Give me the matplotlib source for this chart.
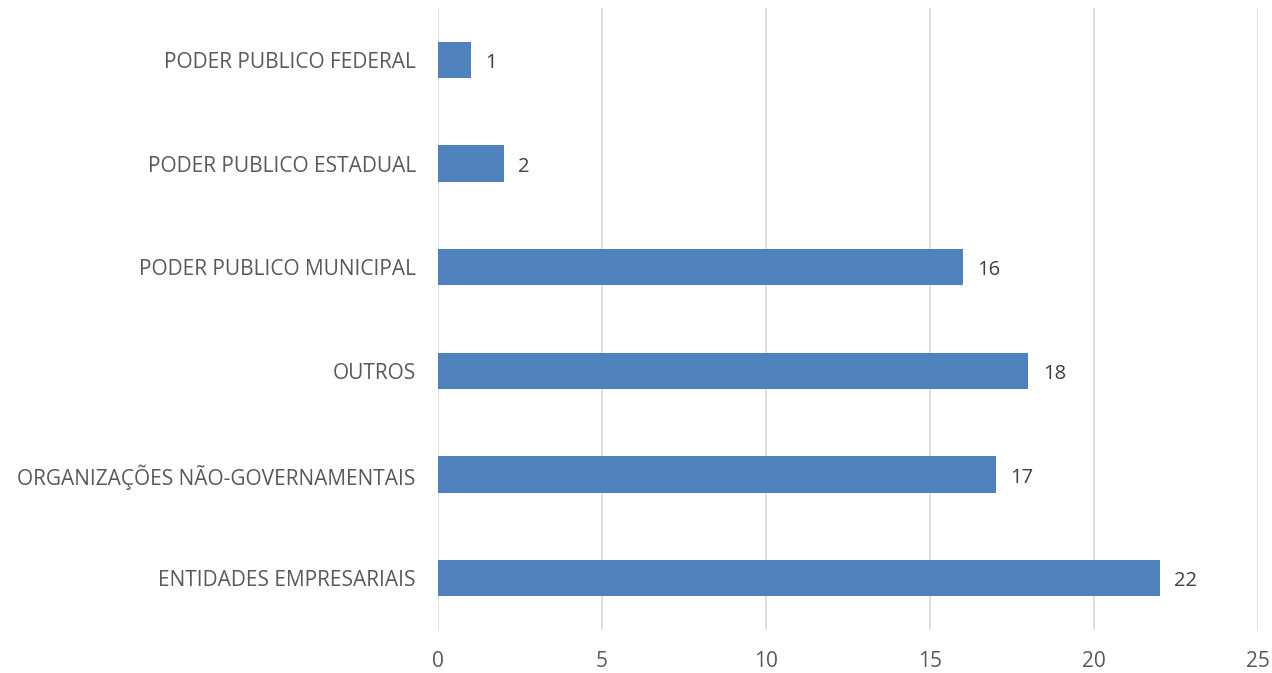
import numpy as np
import matplotlib.pyplot as plt

categorias = ["ENTIDADES EMPRESARIAIS", "ORGANIZAÇÕES NÃO-GOVERNAMENTAIS", "OUTROS",
              "PODER PUBLICO MUNICIPAL", "PODER PUBLICO ESTADUAL", "PODER PUBLICO FEDERAL"]
valores = [22, 17, 18, 16, 2, 1]
xticks = [0, 5, 10, 15, 20, 25]

plt.rcParams['font.family'] = ['Open Sans', 'DejaVu Sans']

fig = plt.figure(figsize=(12.72, 6.73), dpi=100)
ax = fig.add_axes([438/1272, 1 - 630/673, 820/1272, 622/673])

y = np.arange(len(categorias))
bars = ax.barh(y, valores, height=0.35, color='#4F81BD', zorder=3)

for yi, v in zip(y, valores):
    ax.text(v + 0.45, yi - 0.03, str(v), va='center', ha='left', fontsize=14.5, color='#404040')

ax.set_xlim(0, 25)
ax.set_ylim(-0.5, len(categorias) - 0.5)
ax.set_xticks(xticks)
ax.set_yticks(y)
ax.set_yticklabels(categorias)
ax.grid(axis='x', color='#D9D9D9', linewidth=1.2, zorder=0)
for s in ax.spines.values():
    s.set_visible(False)
ax.tick_params(length=0, labelsize=15, colors='#595959')
ax.tick_params(axis='x', pad=15)
ax.tick_params(axis='y', pad=16)

fig.savefig('out.png', dpi=100)
